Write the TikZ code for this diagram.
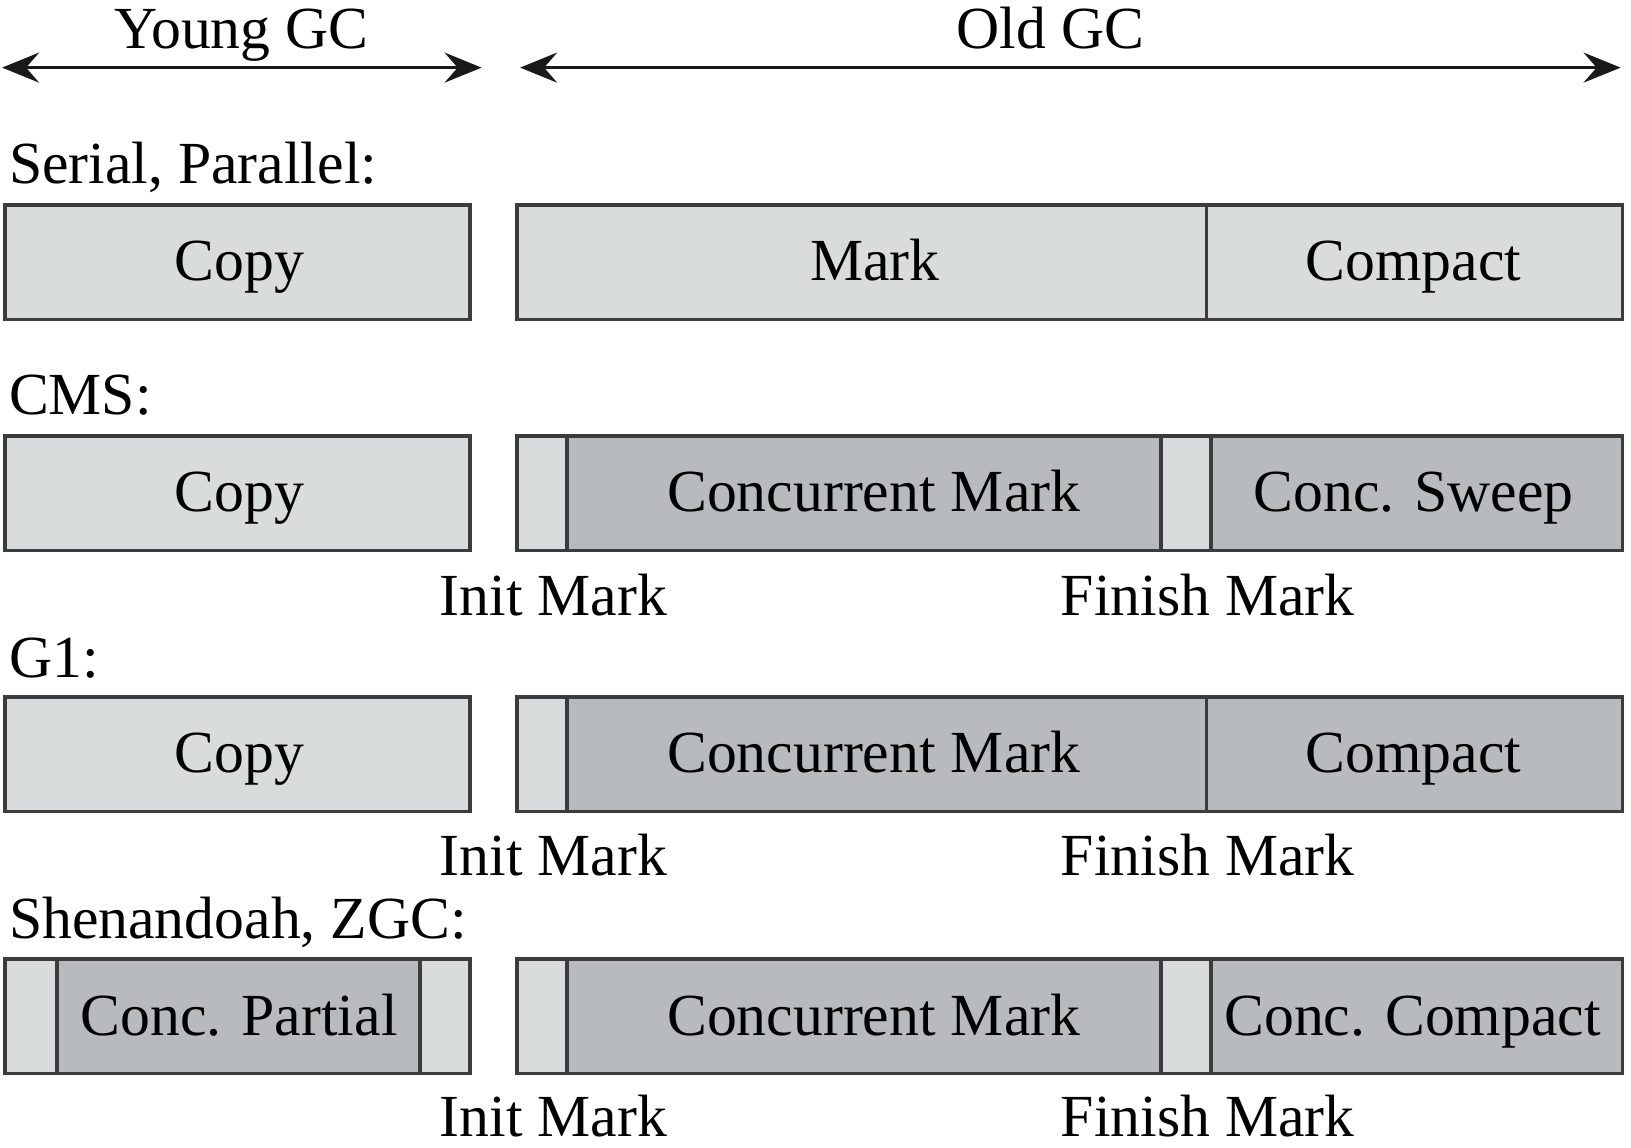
\documentclass[tikz,border=0pt]{standalone}
\usepackage{fontspec}
\setmainfont{Liberation Serif}
\usepackage{xcolor}
\usetikzlibrary{arrows.meta,positioning}

\definecolor{stwgray}{HTML}{D9DCDD}
\definecolor{concgray}{HTML}{B8BBBD}
\definecolor{edgegray}{HTML}{3C3C3C}

\tikzset{
  stw/.style={draw=edgegray,line width=1pt,fill=stwgray},
  conc/.style={draw=edgegray,line width=1pt,fill=concgray},
  txt/.style={anchor=base,inner sep=0pt},
  rowlabel/.style={anchor=base west,inner sep=0pt},
  span/.style={{Stealth[length=3.7mm,width=3mm,inset=1.3mm]}-{Stealth[length=3.7mm,width=3mm,inset=1.3mm]},line width=0.9pt,draw=black!90}
}

\begin{document}
\begin{tikzpicture}[x=0.0104cm,y=-0.0104cm,font=\fontsize{17}{20}\selectfont]
    \useasboundingbox (0,0) rectangle (1568,1103);

    % header
    \coordinate (young_l) at (2,65);
    \coordinate (young_r) at (463,65);
    \coordinate (old_l) at (500,65);
    \coordinate (old_r) at (1558,65);
    \node (young) [txt] at (232,47) {Young GC};
    \node (old) [txt] at (1010,47) {Old GC};
    \draw[span] (young_l) -- (young_r);
    \draw[span] (old_l) -- (old_r);

    % Serial, Parallel
    \node (serial) [rowlabel] at (8,176) {Serial, Parallel:};
    \draw[stw] (5,197) rectangle (452,307);
    \draw[stw] (497,197) rectangle (1160,307);
    \draw[stw] (1160,197) rectangle (1560,307);
    \node (s_copy) [txt] at (230,270) {Copy};
    \node (s_mark) [txt] at (841,270) {Mark};
    \node (s_compact) [txt] at (1359,270) {Compact};

    % CMS
    \node (cms) [rowlabel] at (8,398) {CMS:};
    \draw[stw] (5,419) rectangle (452,529);
    \draw[stw] (497,419) rectangle (545,529);
    \draw[conc] (545,419) rectangle (1116,529);
    \draw[stw] (1116,419) rectangle (1164,529);
    \draw[conc] (1164,419) rectangle (1560,529);
    \node (c_copy) [txt] at (230,492) {Copy};
    \node (c_mark) [txt] at (840,492) {Concurrent Mark};
    \node (c_sweep) [txt] at (1359,492) {Conc. Sweep};
    \node (c_init) [txt] at (532,592) {Init Mark};
    \node (c_finish) [txt] at (1161,592) {Finish Mark};

    % G1
    \node (gone) [rowlabel] at (8,651) {G1:};
    \draw[stw] (5,670) rectangle (452,780);
    \draw[stw] (497,670) rectangle (545,780);
    \draw[conc] (545,670) rectangle (1160,780);
    \draw[conc] (1160,670) rectangle (1560,780);
    \node (g_copy) [txt] at (230,743) {Copy};
    \node (g_mark) [txt] at (840,743) {Concurrent Mark};
    \node (g_compact) [txt] at (1359,743) {Compact};
    \node (g_init) [txt] at (532,842) {Init Mark};
    \node (g_finish) [txt] at (1161,842) {Finish Mark};

    % Shenandoah, ZGC
    \node (shen) [rowlabel] at (8,902) {Shenandoah, ZGC:};
    \draw[stw] (5,922) rectangle (55,1032);
    \draw[conc] (55,922) rectangle (404,1032);
    \draw[stw] (404,922) rectangle (452,1032);
    \draw[stw] (497,922) rectangle (545,1032);
    \draw[conc] (545,922) rectangle (1116,1032);
    \draw[stw] (1116,922) rectangle (1164,1032);
    \draw[conc] (1164,922) rectangle (1560,1032);
    \node (z_partial) [txt] at (230,995) {Conc. Partial};
    \node (z_mark) [txt] at (840,995) {Concurrent Mark};
    \node (z_compact) [txt] at (1358,995) {Conc. Compact};
    \node (z_init) [txt] at (532,1093) {Init Mark};
    \node (z_finish) [txt] at (1161,1093) {Finish Mark};
\end{tikzpicture}
\end{document}
